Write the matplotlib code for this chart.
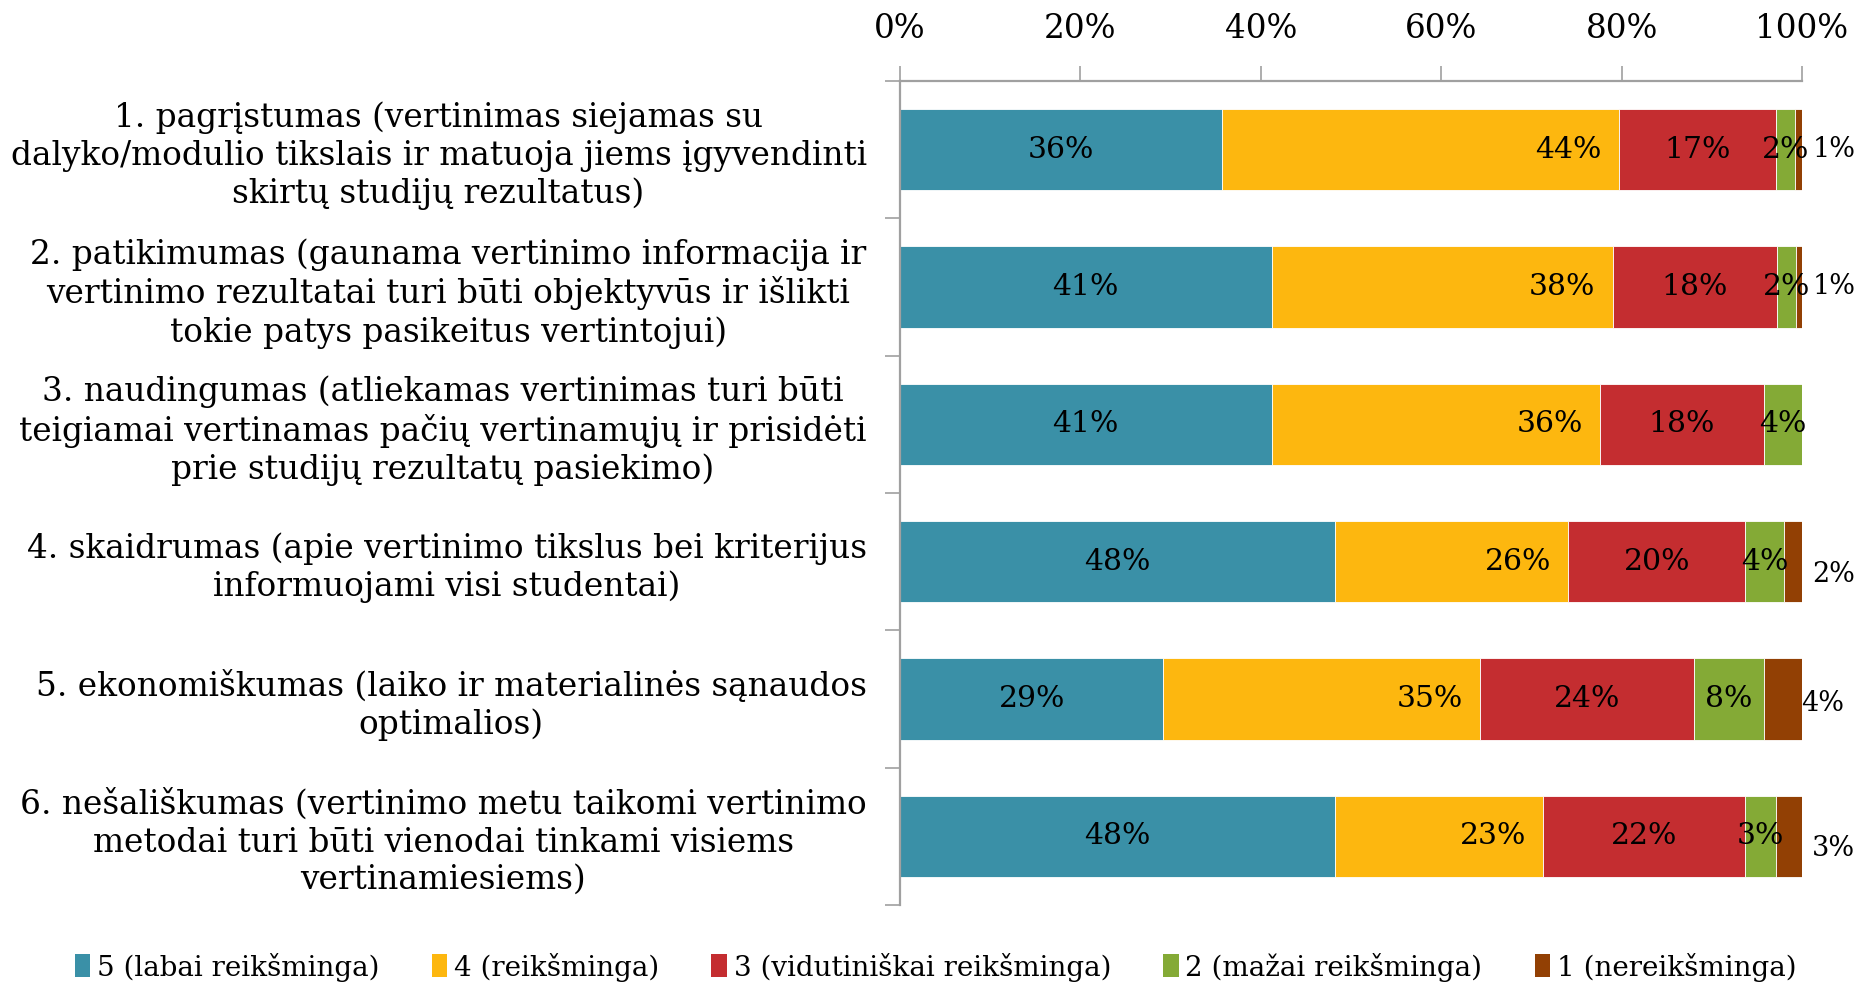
import matplotlib
matplotlib.use("Agg")
import matplotlib.pyplot as plt
import numpy as np

plt.rcParams['font.family'] = ['DejaVu Serif']

categories = [
    "1. pagrįstumas (vertinimas siejamas su\ndalyko/modulio tikslais ir matuoja jiems įgyvendinti\nskirtų studijų rezultatus)",
    "2. patikimumas (gaunama vertinimo informacija ir\nvertinimo rezultatai turi būti objektyvūs ir išlikti\ntokie patys pasikeitus vertintojui)",
    "3. naudingumas (atliekamas vertinimas turi būti\nteigiamai vertinamas pačių vertinamųjų ir prisidėti\nprie studijų rezultatų pasiekimo)",
    "4. skaidrumas (apie vertinimo tikslus bei kriterijus\ninformuojami visi studentai)",
    "5. ekonomiškumas (laiko ir materialinės sąnaudos\noptimalios)",
    "6. nešališkumas (vertinimo metu taikomi vertinimo\nmetodai turi būti vienodai tinkami visiems\nvertinamiesiems)",
]

series_names = ["5 (labai reikšminga)", "4 (reikšminga)", "3 (vidutiniškai reikšminga)",
                "2 (mažai reikšminga)", "1 (nereikšminga)"]

s5 = [35.7, 41.2, 41.2, 48.2, 29.2, 48.2]
s4 = [44.0, 37.8, 36.4, 25.9, 35.1, 23.1]
s3 = [17.4, 18.2, 18.2, 19.6, 23.7, 22.4]
s2 = [2.1, 2.1, 4.2, 4.3, 7.8, 3.4]
s1 = [0.8, 0.7, 0.0, 2.0, 4.2, 2.9]

tick_values = [0, 20, 40, 60, 80, 100]
tick_labels = ["0%", "20%", "40%", "60%", "80%", "100%"]

colors = ["#3A90A7", "#FDB70F", "#C42D30", "#84AA36", "#924004"]

# style-only offsets for the outside labels of the last series (x in %, y in category units)
last_dx = [1.2, 1.2, 1.2, 1.1, -0.1, 1.1]
last_dy = [0.0, 0.0, 0.0, 0.095, 0.03, 0.087]

fig = plt.figure(figsize=(18.6, 9.85), dpi=100)
ax = fig.add_axes([900/1860, 80/985, (1802-900)/1860, (905-81)/985])

data = [s5, s4, s3, s2, s1]
y = np.arange(len(categories))
left = np.zeros(len(categories))
label_fs = 21.5
for k, (vals, col) in enumerate(zip(data, colors)):
    vals = np.array(vals)
    ax.barh(y, vals, left=left, height=0.59, color=col,
            edgecolor='white', linewidth=0.6, label=series_names[k])
    for i, v in enumerate(vals):
        if v <= 0:
            continue
        txt = f"{int(round(v))}%"
        if k == 1:
            ax.text(left[i] + v - 1.9, y[i], txt, ha='right', va='center', fontsize=label_fs)
        elif k == 4:
            ax.text(100 + last_dx[i], y[i] + last_dy[i], txt, ha='left', va='center',
                    fontsize=19.5, clip_on=False)
        else:
            ax.text(left[i] + v / 2, y[i], txt, ha='center', va='center', fontsize=label_fs)
    left = left + vals

ax.set_xlim(0, 100)
ax.set_ylim(len(categories) - 0.5, -0.5)
ax.xaxis.tick_top()
ax.set_xticks(tick_values)
ax.set_xticklabels(tick_labels, fontsize=23.5)
ax.tick_params(axis='x', which='major', length=11, width=1.2, color='#A0A0A0', pad=15, direction='out')

ax.set_yticks(np.arange(-0.5, len(categories), 1.0))
ax.set_yticklabels([])
ax.tick_params(axis='y', which='major', length=11, width=1.2, color='#A0A0A0', direction='out')
ax.set_yticks(y, minor=True)
ax.set_yticklabels(categories, minor=True, fontsize=23.6, multialignment='center', linespacing=1.22)
ax.tick_params(axis='y', which='minor', length=0, pad=24)

for s in ['right', 'bottom']:
    ax.spines[s].set_visible(False)
for s in ['top', 'left']:
    ax.spines[s].set_color('#A0A0A0')
    ax.spines[s].set_linewidth(1.6)

handles, labels = ax.get_legend_handles_labels()
leg = fig.legend(handles, labels, loc='center', bbox_to_anchor=(0.503, 1 - 967/985), ncol=5,
                 frameon=False, fontsize=20, handlelength=0.55, handleheight=0.9,
                 handletextpad=0.25, columnspacing=1.88)
for h in leg.legend_handles:
    h.set_edgecolor('none')

fig.savefig("out.png", dpi=100, facecolor='white')
